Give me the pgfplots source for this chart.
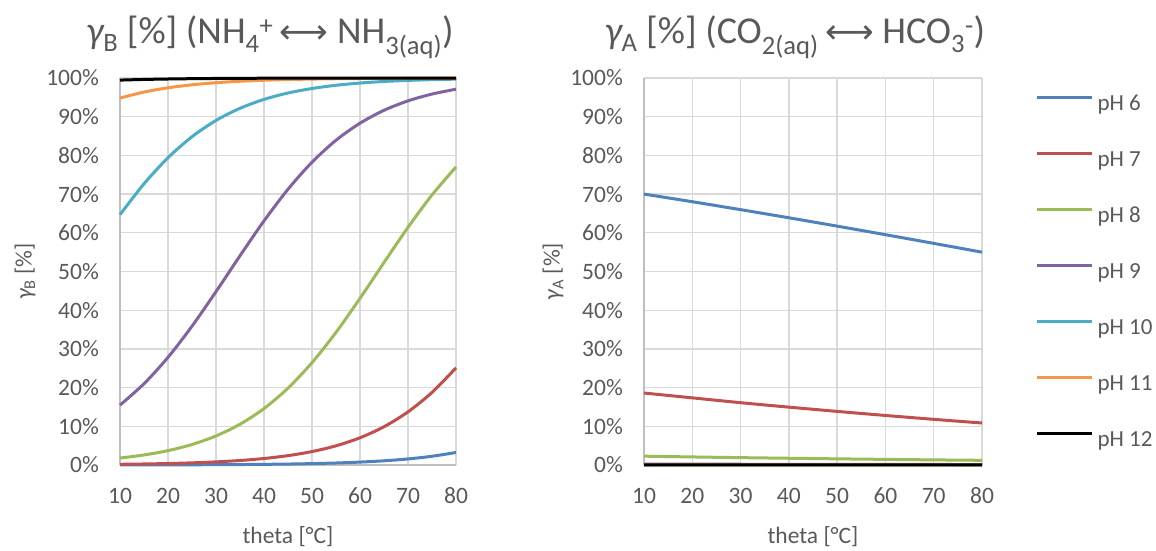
\documentclass[border=0pt]{standalone}
\usepackage{fontspec}
\setmainfont{Carlito}
\newfontfamily\dejavu{DejaVu Sans}
\usepackage{pgfplots}
\usepackage{pgfplotstable}
\pgfplotsset{compat=1.18}
\definecolor{txt}{HTML}{595959}
\definecolor{gridc}{HTML}{D9D9D9}
\definecolor{axc}{HTML}{BFBFBF}
\definecolor{c6}{HTML}{4F81BD}
\definecolor{c7}{HTML}{C0504D}
\definecolor{c8}{HTML}{9BBB59}
\definecolor{c9}{HTML}{8064A2}
\definecolor{c10}{HTML}{4BACC6}
\definecolor{c11}{HTML}{F79646}
\definecolor{c12}{HTML}{000000}

\pgfplotstableread{
x p6 p7 p8 p9 p10 p11 p12
10 0.0183 0.183 1.799 15.48 64.69 94.82 99.457
15 0.0266 0.265 2.589 21.00 72.66 96.37 99.625
20 0.0385 0.384 3.712 27.82 79.40 97.47 99.741
25 0.0559 0.556 5.297 35.87 84.83 98.24 99.822
30 0.0811 0.805 7.508 44.80 89.03 98.78 99.877
35 0.1176 1.163 10.53 54.07 92.17 99.16 99.915
40 0.1705 1.679 14.59 63.07 94.47 99.42 99.941
45 0.2472 2.418 19.86 71.25 96.12 99.60 99.960
50 0.3582 3.470 26.44 78.24 97.29 99.72 99.972
55 0.5187 4.955 34.27 83.91 98.12 99.81 99.981
60 0.7508 7.032 43.07 88.32 98.70 99.87 99.987
65 1.0853 9.887 52.32 91.65 99.10 99.91 99.991
70 1.5664 13.73 61.41 94.09 99.38 99.94 99.994
75 2.2571 18.76 69.78 95.85 99.57 99.96 99.996
80 3.2409 25.09 77.01 97.10 99.70 99.97 99.997
}\ammonia

\pgfplotstableread{
x p6 p7 p8 p9 p10 p11 p12
10 70.00 18.60 2.28 0.233 0.0233 0.0023 0.0002
20 68.03 17.35 2.08 0.212 0.0213 0.0021 0.0002
30 65.98 16.10 1.90 0.194 0.0194 0.0019 0.0002
40 63.88 14.95 1.74 0.177 0.0177 0.0018 0.0002
50 61.72 13.85 1.59 0.161 0.0161 0.0016 0.0002
60 59.51 12.80 1.45 0.147 0.0147 0.0015 0.0001
70 57.27 11.80 1.32 0.134 0.0134 0.0013 0.0001
80 54.99 10.85 1.21 0.122 0.0122 0.0012 0.0001
}\carbon

\pgfplotsset{
 mystyle/.style={
  scale only axis, height=387pt,
  xmin=10,xmax=80,ymin=0,ymax=100,
  xtick={10,20,...,80}, ytick={0,10,...,100},
  grid=major, major grid style={draw=gridc, line width=1.3pt},
  axis x line=bottom, axis y line=left,
  axis line style={draw=axc, line width=1.3pt, -},
  tick style={draw=none},
  major tick length=0pt,
  /pgf/number format/assume math mode=true,
  ticklabel style={font=\fontsize{23.5}{28}\selectfont, text=txt},
  yticklabel={\pgfmathprintnumber{\tick}\%},
  yticklabel style={anchor=east, inner sep=0pt, xshift=-21pt},
  xticklabel style={anchor=center, inner sep=0pt, yshift=-31pt},
  label style={font=\fontsize{23.5}{28}\selectfont, text=txt},
  xlabel={theta [°C]},
  xlabel style={at={(axis description cs:0.5,-0.186)}, anchor=center},
  every axis plot/.append style={line width=3pt, smooth, no markers},
  clip=false,
 }
}

\begin{document}
\begin{tikzpicture}
\path[use as bounding box] (0,0) rectangle (1156pt,551pt);

\begin{axis}[mystyle, width=336pt, at={(120pt,86pt)}, anchor=south west,
  ylabel={{\itshape γ}\textsubscript{B} [\%]},
  ylabel style={at={(axis description cs:-0.283,0.5)}, anchor=center}]
\addplot[c6] table[y=p6] {\ammonia};
\addplot[c7] table[y=p7] {\ammonia};
\addplot[c8] table[y=p8] {\ammonia};
\addplot[c9] table[y=p9] {\ammonia};
\addplot[c10] table[y=p10] {\ammonia};
\addplot[c11] table[y=p11] {\ammonia};
\addplot[c12] table[y=p12] {\ammonia};
\end{axis}

\begin{axis}[mystyle, width=338pt, at={(644pt,86pt)}, anchor=south west,
  ylabel={{\itshape γ}\textsubscript{A} [\%]},
  ylabel style={at={(axis description cs:-0.269,0.5)}, anchor=center},
  legend style={at={(axis description cs:1.158,0.959)}, anchor=north west,
    draw=none, fill=none, inner sep=0pt, font=\fontsize{23}{28}\selectfont,
    text=txt, row sep=35pt, column sep=4pt,
    nodes={inner sep=0pt, text height=16pt, text depth=5pt}},
  legend cell align=left,
  legend image code/.code={\draw[#1, line width=3pt] (0pt,7.5pt) -- (55pt,7.5pt);}]
\addplot[c6] table[y=p6] {\carbon};
\addplot[c7] table[y=p7] {\carbon};
\addplot[c8] table[y=p8] {\carbon};
\addplot[c9] table[y=p9] {\carbon};
\addplot[c10] table[y=p10] {\carbon};
\addplot[c11] table[y=p11] {\carbon};
\addplot[c12] table[y=p12] {\carbon};
\legend{pH 6, pH 7, pH 8, pH 9, pH 10, pH 11, pH 12}
\end{axis}

\node[anchor=base, text=txt, font=\fontsize{38}{46}\selectfont, inner sep=0pt] at (270pt,507.5pt)
  {{\itshape γ}\textsubscript{B} [\%] (NH\textsubscript{4}\textsuperscript{+}\,{\dejavu\fontsize{34}{40}\selectfont ⟷} NH\textsubscript{3(aq)})};
\node[anchor=base, text=txt, font=\fontsize{38}{46}\selectfont, inner sep=0pt] at (795pt,507.5pt)
  {{\itshape γ}\textsubscript{A} [\%] (CO\textsubscript{2(aq)}\,{\dejavu\fontsize{34}{40}\selectfont ⟷} HCO\textsubscript{3}\textsuperscript{-})};
\end{tikzpicture}
\end{document}
